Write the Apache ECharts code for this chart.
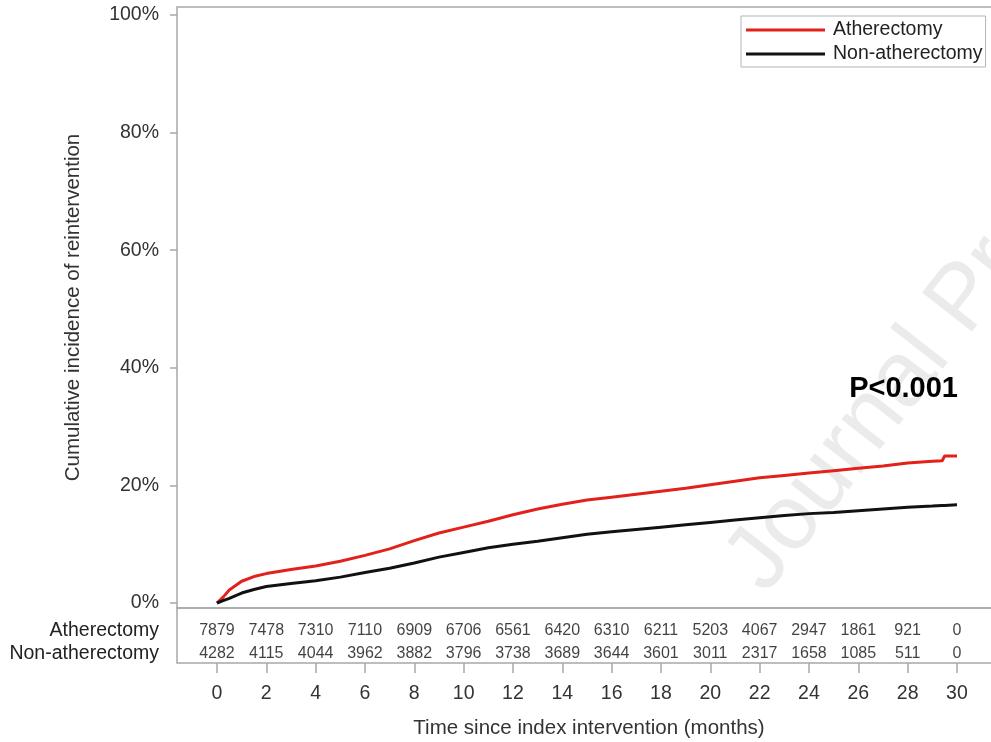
<!DOCTYPE html>
<html>
<head>
<meta charset="utf-8">
<script src="https://cdn.jsdelivr.net/npm/echarts@6/dist/echarts.min.js"></script>
<style>
  html, body { margin: 0; padding: 0; background: #fff; }
  #main { width: 991px; height: 742px; }
</style>
</head>
<body>
<div id="main"></div>
<script>
// cumulative incidence curves (months, %)
var months = [0, 0.25, 0.5, 1, 1.5, 2, 3, 4, 5, 6, 7, 8, 9, 10, 11, 12, 13, 14, 15, 16,
  17, 18, 19, 20, 21, 22, 23, 24, 25, 26, 27, 28, 29, 29.4, 29.5, 30];
var atherectomy = [0, 1.0, 2.2, 3.7, 4.5, 5.0, 5.7, 6.3, 7.1, 8.1, 9.2, 10.6, 11.9, 12.9, 13.9, 15.0, 16.0, 16.8, 17.5, 18.0,
  18.5, 19.0, 19.5, 20.1, 20.7, 21.3, 21.7, 22.1, 22.5, 22.9, 23.3, 23.8, 24.1, 24.2, 25.0, 25.0];
var nonAtherectomy = [0, 0.4, 0.8, 1.7, 2.3, 2.8, 3.3, 3.8, 4.4, 5.2, 5.9, 6.8, 7.8, 8.6, 9.4, 10.0, 10.5, 11.1, 11.7, 12.1,
  12.5, 12.9, 13.3, 13.7, 14.1, 14.5, 14.9, 15.2, 15.4, 15.7, 16.0, 16.3, 16.5, 16.6, 16.6, 16.7];

// numbers at risk
var riskTimes = [0, 2, 4, 6, 8, 10, 12, 14, 16, 18, 20, 22, 24, 26, 28, 30];
var riskAth = [7879, 7478, 7310, 7110, 6909, 6706, 6561, 6420, 6310, 6211, 5203, 4067, 2947, 1861, 921, 0];
var riskNon = [4282, 4115, 4044, 3962, 3882, 3796, 3738, 3689, 3644, 3601, 3011, 2317, 1658, 1085, 511, 0];
var groups = ['Atherectomy', 'Non-atherectomy'];
var yTicks = [0, 20, 40, 60, 80, 100];

var font = 'Liberation Sans';
var frame = '#a8a8a8';

function pairs(xs, ys) {
  return xs.map(function (x, i) { return [x, ys[i]]; });
}
function riskPoints(row, vals) {
  return riskTimes.map(function (t, i) { return [t, row, vals[i]]; });
}

var chart = echarts.init(document.getElementById('main'));

chart.setOption({
  backgroundColor: '#fff',
  animation: false,
  textStyle: { fontFamily: font },
  legend: {
    orient: 'vertical',
    left: 741,
    top: 16,
    padding: [4, 3, 3, 5],
    icon: 'rect',
    itemWidth: 79,
    itemHeight: 3,
    itemGap: 4,
    borderColor: '#b4b4b4',
    borderWidth: 1,
    backgroundColor: '#fff',
    textStyle: { fontSize: 19.5, lineHeight: 20, color: '#222', fontFamily: font, padding: [0, 0, 0, 3] },
    data: groups
  },
  grid: [
    { left: 177, top: 7, width: 824, height: 601, show: true, borderColor: frame, borderWidth: 1.5,
      containLabel: false, outerBoundsMode: 'none' },
    { left: 177, top: 608, width: 824, height: 55, show: true, borderColor: frame, borderWidth: 1.5,
      containLabel: false, outerBoundsMode: 'none' }
  ],
  xAxis: [
    { gridIndex: 0, type: 'value', min: -1.62, max: 31.785, show: false },
    {
      gridIndex: 1, type: 'value', min: -1.62, max: 31.785, position: 'bottom',
      axisLine: { show: false, onZero: false },
      splitLine: { show: false },
      axisTick: { show: true, inside: false, length: 10, customValues: riskTimes, lineStyle: { color: frame, width: 1.5 } },
      axisLabel: { customValues: riskTimes, fontSize: 19.5, color: '#333', margin: 21, fontFamily: font },
      name: 'Time since index intervention (months)',
      nameLocation: 'middle',
      nameGap: 55,
      nameTextStyle: { fontSize: 20.5, color: '#333', fontFamily: font }
    }
  ],
  yAxis: [
    {
      gridIndex: 0, type: 'value', min: -0.85, max: 101.36, position: 'left',
      axisLine: { show: false, onZero: false },
      splitLine: { show: false },
      axisTick: { show: true, inside: false, length: 7, customValues: yTicks, lineStyle: { color: frame, width: 1.5 } },
      axisLabel: {
        customValues: yTicks, fontSize: 19.5, color: '#333', margin: 18, fontFamily: font,
        formatter: function (v) { return v + '%'; }
      },
      name: 'Cumulative incidence of reintervention',
      nameLocation: 'middle',
      nameGap: 93,
      nameTextStyle: { fontSize: 20.5, color: '#333', fontFamily: font }
    },
    {
      gridIndex: 1, type: 'value', min: 0, max: 2.39, inverse: true, position: 'left',
      axisLine: { show: false, onZero: false },
      splitLine: { show: false },
      axisTick: { show: false },
      axisLabel: {
        customValues: [1, 2], fontSize: 19.5, color: '#222', margin: 18, fontFamily: font,
        formatter: function (v) { return groups[v - 1]; }
      }
    }
  ],
  graphic: [
    {
      type: 'text', x: 782, y: 608, rotation: 52 * Math.PI / 180, z: -1, silent: true,
      style: { text: 'Journal Pre-proof', font: '92px Liberation Sans', fill: '#ebebeb', textAlign: 'left', textVerticalAlign: 'bottom' }
    },
    {
      type: 'text', x: 958, y: 389, z: 10,
      style: { text: 'P<0.001', font: 'bold 29px Liberation Sans', fill: '#000', textAlign: 'right', textVerticalAlign: 'middle' }
    }
  ],
  series: [
    {
      name: groups[0], type: 'line', xAxisIndex: 0, yAxisIndex: 0,
      data: pairs(months, atherectomy), symbol: 'none', z: 3,
      lineStyle: { color: '#e3211b', width: 3 }, itemStyle: { color: '#e3211b' }
    },
    {
      name: groups[1], type: 'line', xAxisIndex: 0, yAxisIndex: 0,
      data: pairs(months, nonAtherectomy), symbol: 'none', z: 3,
      lineStyle: { color: '#111', width: 3 }, itemStyle: { color: '#111' }
    },
    {
      type: 'scatter', xAxisIndex: 1, yAxisIndex: 1, symbolSize: 1, silent: true,
      itemStyle: { color: 'rgba(0,0,0,0)' },
      data: riskPoints(1, riskAth).concat(riskPoints(2, riskNon)),
      label: {
        show: true, position: 'inside', fontSize: 16, color: '#111', fontFamily: font,
        formatter: function (p) { return String(p.value[2]); }
      }
    }
  ]
});
</script>
</body>
</html>
